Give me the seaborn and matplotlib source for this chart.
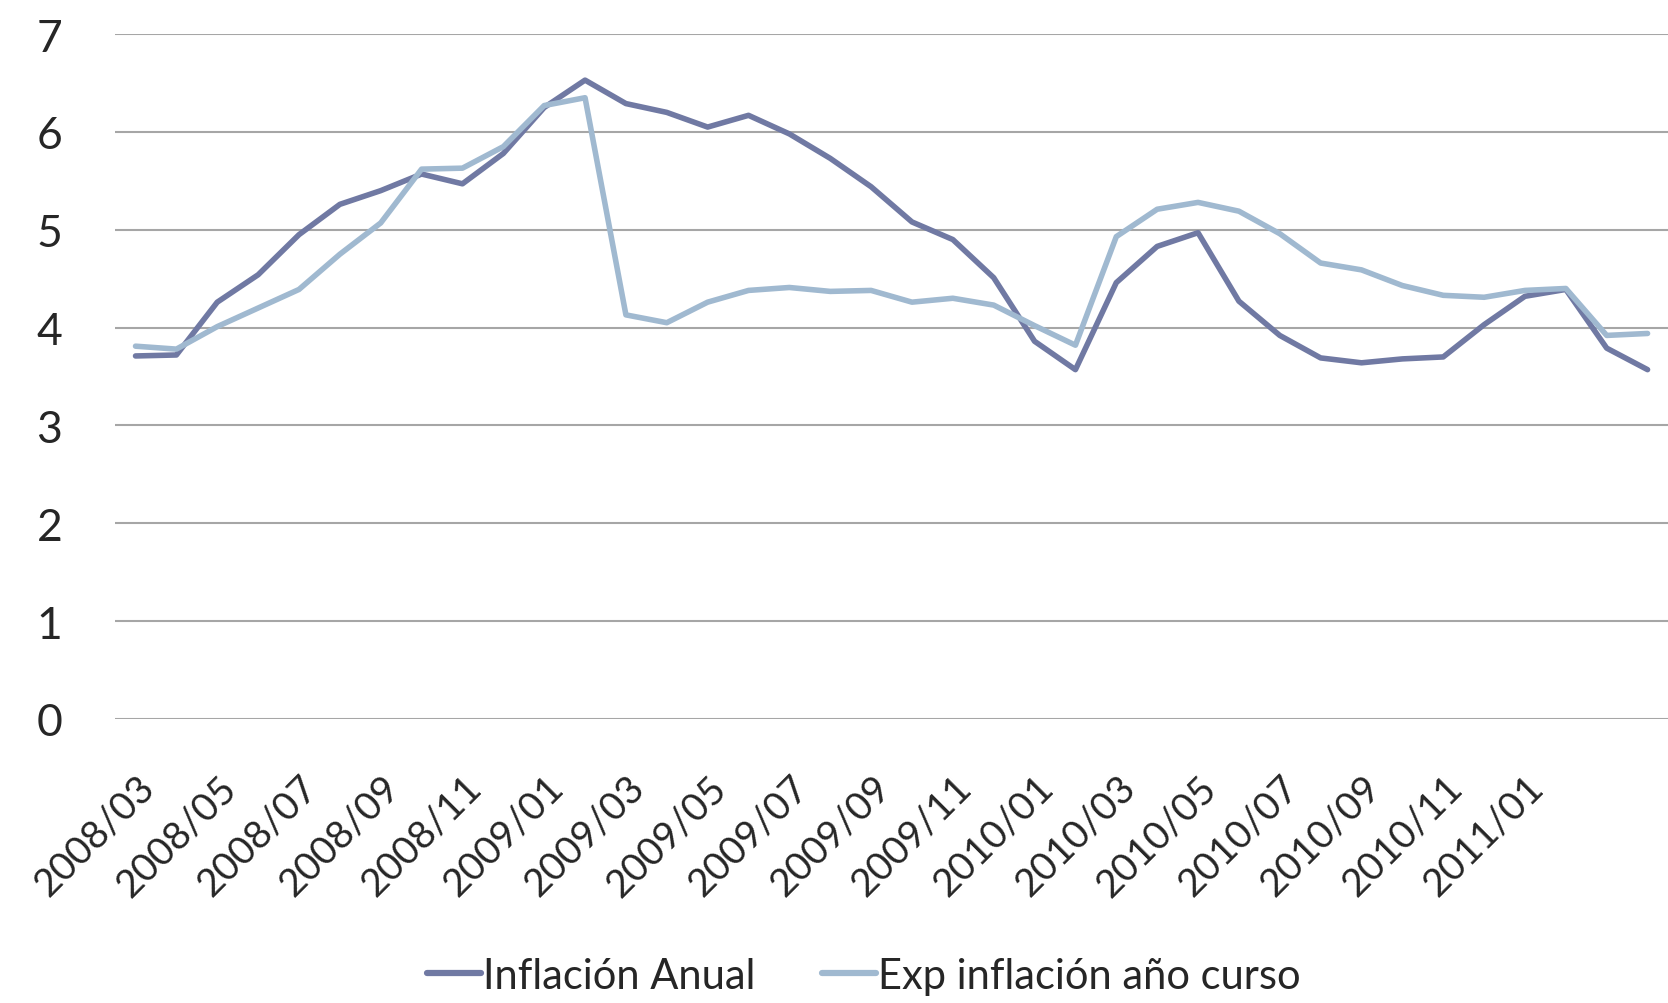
import matplotlib
matplotlib.use("Agg")
import matplotlib.pyplot as plt
import matplotlib.transforms as mtransforms
import seaborn as sns
import pandas as pd

months = ["2008/03", "2008/04", "2008/05", "2008/06", "2008/07", "2008/08", "2008/09", "2008/10",
          "2008/11", "2008/12", "2009/01", "2009/02", "2009/03", "2009/04", "2009/05", "2009/06",
          "2009/07", "2009/08", "2009/09", "2009/10", "2009/11", "2009/12", "2010/01", "2010/02",
          "2010/03", "2010/04", "2010/05", "2010/06", "2010/07", "2010/08", "2010/09", "2010/10",
          "2010/11", "2010/12", "2011/01", "2011/02", "2011/03", "2011/04"]

# category labels shown on the axis (every second month, as in the reference)
tick_labels = ["2008/03", "2008/05", "2008/07", "2008/09", "2008/11", "2009/01", "2009/03",
               "2009/05", "2009/07", "2009/09", "2009/11", "2010/01", "2010/03", "2010/05",
               "2010/07", "2010/09", "2010/11", "2011/01"]

inflacion_anual = [3.71, 3.72, 4.26, 4.54, 4.95, 5.26, 5.40, 5.57, 5.47, 5.78,
                   6.25, 6.53, 6.29, 6.20, 6.05, 6.17, 5.98, 5.73, 5.44, 5.08,
                   4.90, 4.51, 3.86, 3.57, 4.46, 4.83, 4.97, 4.27, 3.92, 3.69,
                   3.64, 3.68, 3.70, 4.03, 4.32, 4.39, 3.79, 3.57]

exp_inflacion = [3.81, 3.78, 4.01, 4.20, 4.39, 4.75, 5.07, 5.62, 5.63, 5.85,
                 6.27, 6.35, 4.13, 4.05, 4.26, 4.38, 4.41, 4.37, 4.38, 4.26,
                 4.30, 4.23, 4.02, 3.82, 4.93, 5.21, 5.28, 5.19, 4.96, 4.66,
                 4.59, 4.43, 4.33, 4.31, 4.38, 4.40, 3.92, 3.94]

series_names = ["Inflación Anual", "Exp inflación año curso"]
series_colors = ["#7079A3", "#A0B9D0"]

df = pd.concat([
    pd.DataFrame({"mes": months, "valor": inflacion_anual, "serie": series_names[0]}),
    pd.DataFrame({"mes": months, "valor": exp_inflacion, "serie": series_names[1]}),
])

sns.set_theme(style="white")
plt.rcParams["font.family"] = ["Lato", "DejaVu Sans"]

fig = plt.figure(figsize=(16.68, 10.04), dpi=100)
ax = fig.add_axes([0.069, 0.283, 0.931, 0.682])

sns.lineplot(data=df, x="mes", y="valor", hue="serie", palette=series_colors,
             linewidth=4.0, ax=ax, sort=False)

ax.set_ylim(0, 7)
ax.set_xlim(-0.5, len(months) - 0.5)
ax.set_yticks(range(0, 8))
ax.yaxis.grid(True, color="#A6A6A6", linewidth=1.5)
ax.xaxis.grid(False)
ax.set_axisbelow(True)
for s in ax.spines.values():
    s.set_visible(False)

ax.set_xticks([months.index(t) for t in tick_labels])
ax.set_xticklabels(tick_labels, rotation=45, ha="right", va="top",
                   rotation_mode="anchor", fontsize=28)
shift = mtransforms.ScaledTranslation(5 / 100, 0, fig.dpi_scale_trans)
for lbl in ax.get_xticklabels():
    lbl.set_transform(lbl.get_transform() + shift)
ax.tick_params(axis="x", length=0, pad=36)
ax.tick_params(axis="y", length=0, pad=38, labelsize=32)
ax.set_xlabel("")
ax.set_ylabel("")

leg = ax.legend(loc="center", bbox_to_anchor=(0.482, -0.375),
                bbox_transform=ax.transAxes, ncol=2, frameon=False, fontsize=30,
                handlelength=1.3, handletextpad=0.05, columnspacing=1.6)
for line in leg.get_lines():
    line.set_linewidth(4.5)

fig.savefig("out.png", dpi=100)
